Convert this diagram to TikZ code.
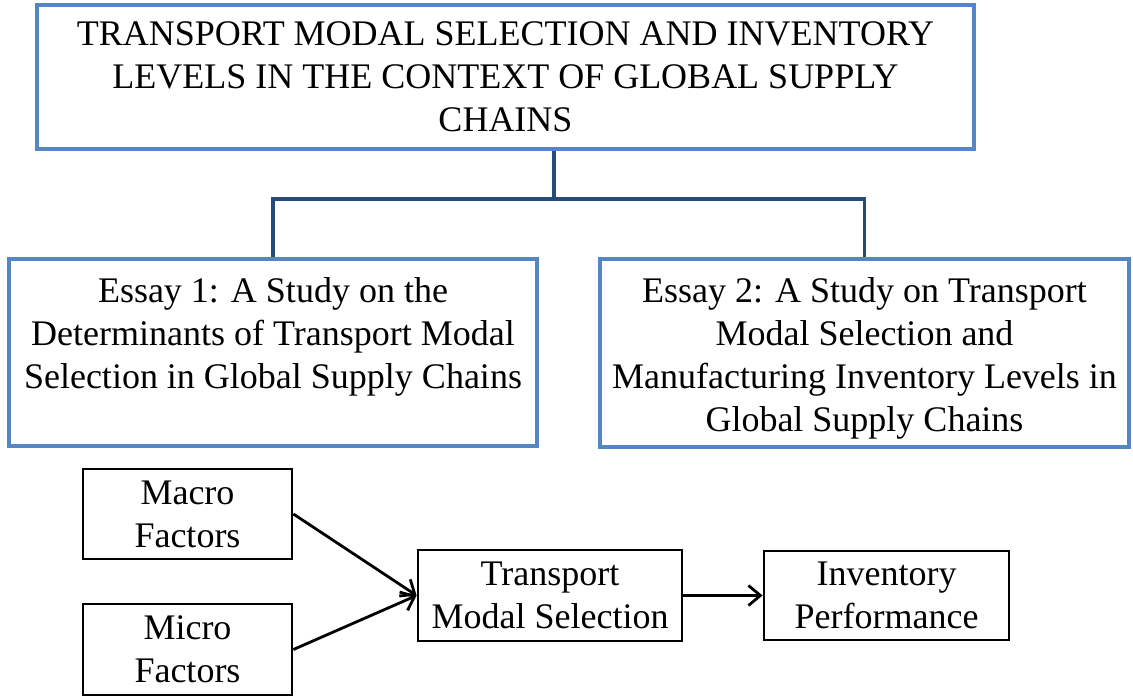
\documentclass[tikz,border=0pt]{standalone}
\usepackage{fontspec}
\setmainfont{Liberation Serif}
\usetikzlibrary{arrows.meta}

\definecolor{boxblue}{RGB}{85,134,196}
\definecolor{linkblue}{RGB}{36,74,126}

\begin{document}
\begin{tikzpicture}[x=0.5pt, y=-0.5pt,
    every node/.style={font=\fontsize{18}{21.5}\selectfont, align=center},
    bluebox/.style={draw=boxblue, line width=1.6pt, inner sep=0pt},
    essaytext/.style={inner sep=0pt, anchor=north},
    blackbox/.style={draw=black, line width=1.4pt, inner sep=0pt},
    link/.style={draw=linkblue, line width=1.6pt},
    flow/.style={draw=black, line width=1.4pt, -{Straight Barb[length=6pt, width=10pt, line width=1.4pt]}}]
  \useasboundingbox (0,0) rectangle (1133,696);

  % top box
  \node[bluebox, minimum width=468.5pt, minimum height=72pt] (title) at (505.5,77)
    {TRANSPORT MODAL SELECTION AND INVENTORY\\ LEVELS IN THE CONTEXT OF GLOBAL SUPPLY\\ CHAINS};

  % the two essays
  \node[bluebox, minimum width=264pt, minimum height=93.5pt] (ess1) at (273,352.5) {};
  \node[bluebox, minimum width=264.5pt, minimum height=94pt] (ess2) at (864.5,353) {};
  \node[essaytext] (ess1txt) at ([yshift=-10pt]ess1.north)
    {Essay 1: A Study on the\\ Determinants of Transport Modal\\ Selection in Global Supply Chains};
  \node[essaytext] (ess2txt) at ([yshift=-10pt]ess2.north)
    {Essay 2: A Study on Transport\\ Modal Selection and\\ Manufacturing Inventory Levels in\\ Global Supply Chains};

  \coordinate (hub) at (554,199);
  \draw[link] (title.south -| hub) -- (hub);
  \draw[link, line join=miter] (ess1.north) |- (hub) -| (ess2.north);

  % research model
  \node[blackbox, minimum width=104.5pt, minimum height=45pt] (macro) at (187.5,514) {Macro\\ Factors};
  \node[blackbox, minimum width=104.5pt, minimum height=45.5pt] (micro) at (187.5,649.5) {Micro\\ Factors};
  \node[blackbox, minimum width=132pt, minimum height=45.5pt] (modal) at (550,595.5) {Transport\\ Modal Selection};
  \node[blackbox, minimum width=122.5pt, minimum height=44.5pt] (inv) at (886.5,595.5) {Inventory\\ Performance};

  \draw[flow] (macro.east) -- (modal.west);
  \draw[flow] (micro.east) -- (modal.west);
  \draw[flow] (modal) -- (inv);
\end{tikzpicture}
\end{document}
